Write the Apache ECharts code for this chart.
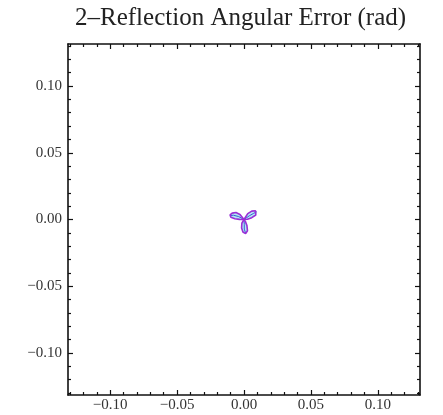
<!DOCTYPE html>
<html>
<head>
<meta charset="utf-8">
<script src="https://cdn.jsdelivr.net/npm/echarts@6/dist/echarts.min.js"></script>
<style>
  html, body { margin: 0; padding: 0; background: #fff; }
  #chart { width: 443px; height: 415px; }
</style>
</head>
<body>
<div id="chart"></div>
<script>
// Plot title and axis extent (radians)
const titleText = '2\u2013Reflection Angular Error (rad)';
const axisRange = 0.1315;

// Labelled tick positions, shared by both axes
const majorTicks = [-0.10, -0.05, 0.00, 0.05, 0.10];
// Unlabelled minor ticks every 0.01
const minorTicks = [-0.13, -0.12, -0.11, -0.09, -0.08, -0.07, -0.06, -0.04, -0.03, -0.02, -0.01,
                    0.01, 0.02, 0.03, 0.04, 0.06, 0.07, 0.08, 0.09, 0.11, 0.12, 0.13];

// Error trace: three petals leaving from the origin, [x, y] in rad
const lobeLeft = [[0, 0], [-0.003, 0.0038], [-0.006, 0.0052], [-0.0088, 0.0048], [-0.0104, 0.0034],
                  [-0.0098, 0.0016], [-0.0068, 0.0006], [-0.0034, 0.0001], [0, 0]];
const lobeRight = [[0, 0], [0.0028, 0.0044], [0.0058, 0.0063], [0.0086, 0.0066], [0.0099, 0.0054],
                   [0.0088, 0.0034], [0.0058, 0.0014], [0.0026, 0.0002], [0, 0]];
const lobeBottom = [[0, 0], [-0.0016, -0.0028], [-0.0018, -0.0064], [-0.0008, -0.0094], [0.0012, -0.0106],
                    [0.0026, -0.0084], [0.0022, -0.0046], [0.001, -0.0014], [0, 0]];
// Inner trace running along each petal
const spineLeft = [[0, 0], [-0.004, 0.0022], [-0.0078, 0.0032], [-0.0098, 0.003]];
const spineRight = [[0, 0], [0.004, 0.0028], [0.0072, 0.0046], [0.0094, 0.0058]];
const spineBottom = [[0, 0], [0.0002, -0.0036], [0.0002, -0.0072], [0.0012, -0.0102]];

const lobes = [lobeLeft, lobeRight, lobeBottom];
const spines = [spineLeft, spineRight, spineBottom];

const serif = '"Liberation Serif", "DejaVu Serif", serif';
const frameColor = '#111';

function fmt(v) {
  const s = Math.abs(v).toFixed(2);
  return v < -1e-9 ? '\u2212' + s : s;
}

function makeAxis(position, ticks, tickLen, withLine, withLabels) {
  return {
    type: 'value',
    position: position,
    min: -axisRange,
    max: axisRange,
    axisLine: { show: withLine, onZero: false, lineStyle: { color: frameColor, width: 1.6 } },
    axisTick: {
      show: true, inside: true, length: tickLen, customValues: ticks,
      lineStyle: { color: frameColor, width: 1.2 }
    },
    axisLabel: withLabels ? {
      show: true, customValues: majorTicks, formatter: fmt,
      fontFamily: serif, fontSize: 15, color: '#333',
      margin: (position === 'left' || position === 'right') ? 6 : 3
    } : { show: false },
    splitLine: { show: false },
    minorTick: { show: false }
  };
}

const chart = echarts.init(document.getElementById('chart'), null, { renderer: 'canvas' });

const series = [];
// Cyan fill of each petal
series.push({
  type: 'custom',
  xAxisIndex: 0,
  yAxisIndex: 0,
  data: [[0], [1], [2]],
  silent: true,
  z: 1,
  renderItem: function (params, api) {
    const pts = lobes[api.value(0)].map(p => api.coord(p));
    return {
      type: 'polygon',
      shape: { points: pts },
      style: { fill: '#a6e4f0', stroke: null, opacity: 0.85 }
    };
  }
});
lobes.forEach(function (lobe) {
  series.push({
    type: 'line', xAxisIndex: 0, yAxisIndex: 0, data: lobe,
    showSymbol: false, symbol: 'none', silent: true, z: 3,
    lineStyle: { color: '#9a2fd6', width: 1.6 }
  });
});
spines.forEach(function (sp) {
  series.push({
    type: 'line', xAxisIndex: 0, yAxisIndex: 0, data: sp,
    showSymbol: false, symbol: 'none', silent: true, z: 2,
    lineStyle: { color: '#3b5bd6', width: 1 }
  });
});

chart.setOption({
  animation: false,
  backgroundColor: '#fff',
  title: {
    text: titleText,
    left: 70,
    top: 1,
    textStyle: { fontFamily: serif, fontSize: 25, fontWeight: 'normal', color: '#222' }
  },
  grid: { left: 68, right: 23, top: 44, bottom: 20, containLabel: false },
  xAxis: [
    makeAxis('bottom', majorTicks, 5, true, true),
    makeAxis('bottom', minorTicks, 3, false, false),
    makeAxis('top', majorTicks, 5, true, false),
    makeAxis('top', minorTicks, 3, false, false)
  ],
  yAxis: [
    makeAxis('left', majorTicks, 5, true, true),
    makeAxis('left', minorTicks, 3, false, false),
    makeAxis('right', majorTicks, 5, true, false),
    makeAxis('right', minorTicks, 3, false, false)
  ],
  series: series
});
</script>
</body>
</html>
